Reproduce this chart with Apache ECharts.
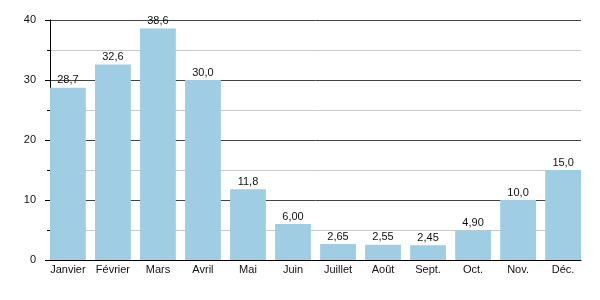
<!DOCTYPE html>
<html><head><meta charset="utf-8">
<script src="https://cdn.jsdelivr.net/npm/echarts@6/dist/echarts.min.js"></script>
<style>html,body{margin:0;padding:0;background:#fff}#c{width:600px;height:300px}</style>
</head><body><div id="c"></div>
<script>
const categories = ['Janvier','Février','Mars','Avril','Mai','Juin','Juillet','Août','Sept.','Oct.','Nov.','Déc.'];
const values = [28.7, 32.6, 38.6, 30.0, 11.8, 6.00, 2.65, 2.55, 2.45, 4.90, 10.0, 15.0];
const valueLabels = ['28,7','32,6','38,6','30,0','11,8','6,00','2,65','2,55','2,45','4,90','10,0','15,0'];
const yTicks = [0, 10, 20, 30, 40];

const chart = echarts.init(document.getElementById('c'), null, {renderer:'canvas'});
const yMin = yTicks[0], yMax = yTicks[yTicks.length-1];
chart.setOption({
  animation:false,
  textStyle:{fontFamily:'Liberation Sans, Arial, sans-serif'},
  grid:[
    {left:50, right:19, top:20, bottom:40},
    {left:45.4, right:14.4, top:20, bottom:40}
  ],
  xAxis:[
    {gridIndex:0, type:'category', data:categories,
     axisLine:{show:true, lineStyle:{color:'#000', width:1}},
     axisTick:{show:false}, axisLabel:{show:false}},
    {gridIndex:1, type:'category', data:categories,
     axisLine:{show:false}, axisTick:{show:false},
     axisLabel:{color:'#111', fontSize:11, margin:4, interval:0}}
  ],
  yAxis:[
    {gridIndex:0, type:'value', min:yMin, max:yMax, interval:10,
     axisLine:{show:true, lineStyle:{color:'#000', width:1}},
     axisTick:{show:true, length:5, lineStyle:{color:'#000'}},
     minorTick:{show:true, splitNumber:2, length:3, lineStyle:{color:'#000'}},
     splitLine:{show:true, lineStyle:{color:'#444', width:1}},
     minorSplitLine:{show:true, lineStyle:{color:'#c8c8c8', width:1}},
     axisLabel:{color:'#111', fontSize:11, margin:14}},
    {gridIndex:1, type:'value', min:yMin, max:yMax, interval:10, show:false,
     splitLine:{show:false}}
  ],
  series:[{
    type:'bar', xAxisIndex:1, yAxisIndex:1, data:values, barCategoryGap:'20.5%',
    itemStyle:{color:'#9ecde4'},
    label:{show:true, position:'top', distance:2, color:'#111', fontSize:11,
      formatter:p=>valueLabels[p.dataIndex]}
  }]
});
</script></body></html>
